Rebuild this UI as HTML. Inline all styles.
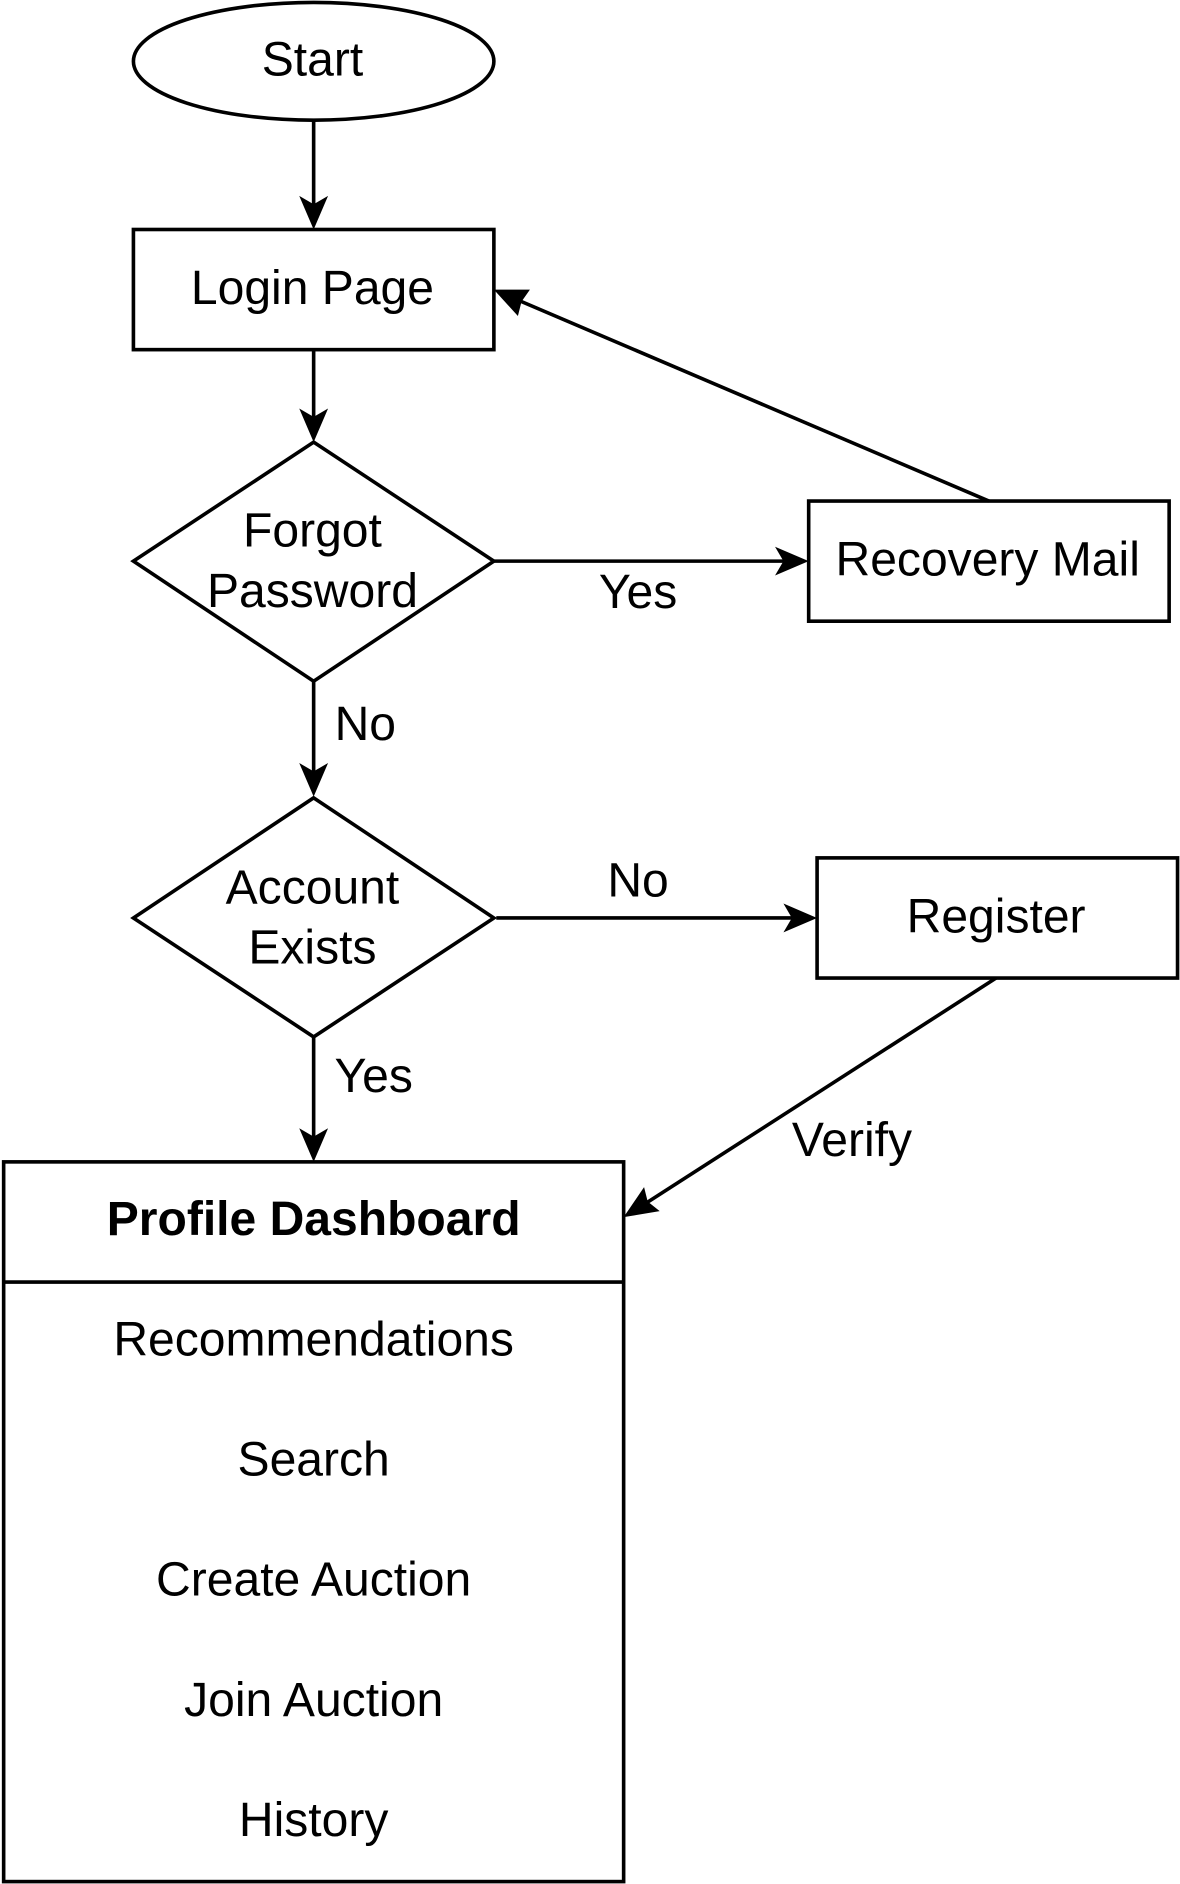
<!DOCTYPE html>
<html><head><meta charset="utf-8"><style>
html,body{margin:0;padding:0;background:#fff;}
svg{display:block;}
text{font-family:"Liberation Sans",sans-serif;font-size:40px;fill:#000;}
</style></head><body>
<svg width="1180" height="1884" viewBox="0 0 982 1568" xmlns="http://www.w3.org/2000/svg">
<g fill="none" stroke="#000" stroke-width="3">
<ellipse cx="261" cy="51" rx="150" ry="49"/>
<rect x="111" y="191" width="300" height="100"/>
<polygon points="261,368 411,467 261,567 111,467"/>
<rect x="673" y="417" width="300" height="100"/>
<polygon points="261,664 411,764 261,863 111,764"/>
<rect x="680" y="714" width="300" height="100"/>
<rect x="3" y="967" width="516" height="599"/>
<line x1="3" y1="1067" x2="519" y2="1067"/>
<line x1="261" y1="101" x2="261" y2="176"/>
<line x1="261" y1="291" x2="261" y2="353"/>
<line x1="411" y1="467" x2="658" y2="467"/>
<line x1="823" y1="417" x2="427" y2="248"/>
<line x1="261" y1="567" x2="261" y2="648"/>
<line x1="413" y1="764" x2="665" y2="764"/>
<line x1="829" y1="814" x2="532" y2="1005"/>
<line x1="261" y1="863" x2="261" y2="952"/>
</g>
<g fill="#000">
<polygon points="261,191 249,163 261,170 273,163"/>
<polygon points="261,368 249,340 261,347 273,340"/>
<polygon points="673,467 645,455 652,467 645,479"/>
<polygon points="411,241 441,241 434,251 431,263"/>
<polygon points="261,663 249,635 261,642 273,635"/>
<polygon points="680,764 652,752 659,764 652,776"/>
<polygon points="519,1013 536,988 539,1000 549,1008"/>
<polygon points="261,967 249,939 261,946 273,939"/>
</g>
<g text-anchor="middle">
<text x="260" y="63">Start</text>
<text x="260" y="253">Login Page</text>
<text x="260" y="455">Forgot</text>
<text x="260" y="505">Password</text>
<text x="822" y="479">Recovery Mail</text>
<text x="531" y="506">Yes</text>
<text x="304" y="616">No</text>
<text x="260" y="752">Account</text>
<text x="260" y="802">Exists</text>
<text x="531" y="746">No</text>
<text x="829" y="776">Register</text>
<text x="311" y="909">Yes</text>
<text x="709" y="962">Verify</text>
<text x="261" y="1028" font-weight="bold">Profile Dashboard</text>
<text x="261" y="1128">Recommendations</text>
<text x="261" y="1228">Search</text>
<text x="261" y="1328">Create Auction</text>
<text x="261" y="1428">Join Auction</text>
<text x="261" y="1528">History</text>
</g>
</svg>
</body></html>
